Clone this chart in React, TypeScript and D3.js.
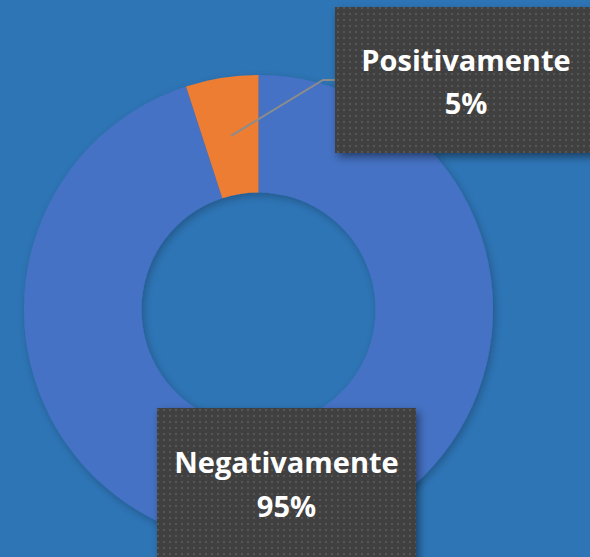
import React from "react";
import * as d3 from "d3";

const categories = ["Negativamente", "Positivamente"];
const values = [95, 5];
const colors = ["#4472C4", "#ED7D31"];

const W = 590;
const H = 557;
const cx = 258.5;
const cy = 309.5;
const outerR = 234.5;
const innerR = 117;

export default function App() {
  const pie = d3.pie<number>().sort(null).value((d) => d);
  const arcs = pie(values);
  const arc = d3.arc<d3.PieArcDatum<number>>().innerRadius(innerR).outerRadius(outerR);
  const total = d3.sum(values);
  const pct = (v: number) => `${Math.round((v / total) * 100)}%`;
  const cPos = arc.centroid(arcs[1]);

  const labels = [
    { i: 1, x: 335, y: 7, w: 262, h: 146, b1: 71, b2: 113.5 },
    { i: 0, x: 157, y: 408, w: 259, h: 170, b1: 473, b2: 517 },
  ];

  const font = "'Open Sans', 'Liberation Sans', sans-serif";

  return (
    <div style={{ position: "absolute", left: 0, top: 0 }}>
      <svg width={W} height={H} style={{ display: "block" }}>
        <defs>
          <pattern id="dots" width={6} height={6} patternUnits="userSpaceOnUse">
            <rect width={6} height={6} fill="#404040" />
            <rect x={1} y={1} width={2} height={2} fill="#565656" />
          </pattern>
          <filter id="shadow" x="-20%" y="-20%" width="150%" height="150%">
            <feDropShadow dx={3} dy={4} stdDeviation={4} floodColor="#000" floodOpacity={0.45} />
          </filter>
          <filter id="dshadow" x="-20%" y="-20%" width="140%" height="140%">
            <feDropShadow dx={2} dy={3} stdDeviation={4} floodColor="#000" floodOpacity={0.25} />
          </filter>
        </defs>
        <rect width={W} height={H} fill="#2E75B6" />
        <g transform={`translate(${cx},${cy})`} filter="url(#dshadow)">
          {arcs.map((a, i) => (
            <path key={categories[i]} d={arc(a) || ""} fill={colors[i]} />
          ))}
        </g>
        <polyline
          points={`${cx + cPos[0]},${cy + cPos[1]} 323,80 335,80`}
          fill="none"
          stroke="#8C8C8C"
          strokeWidth={2}
        />
        {labels.map((l) => (
          <g key={categories[l.i]}>
            <rect x={l.x} y={l.y} width={l.w} height={l.h} fill="url(#dots)" filter="url(#shadow)" />
            <text
              x={l.x + l.w / 2}
              y={l.b1}
              textAnchor="middle"
              fill="#FFFFFF"
              fontFamily={font}
              fontWeight="bold"
              fontSize={29}
            >
              {categories[l.i]}
            </text>
            <text
              x={l.x + l.w / 2}
              y={l.b2}
              textAnchor="middle"
              fill="#FFFFFF"
              fontFamily={font}
              fontWeight="bold"
              fontSize={29}
            >
              {pct(values[l.i])}
            </text>
          </g>
        ))}
      </svg>
    </div>
  );
}
